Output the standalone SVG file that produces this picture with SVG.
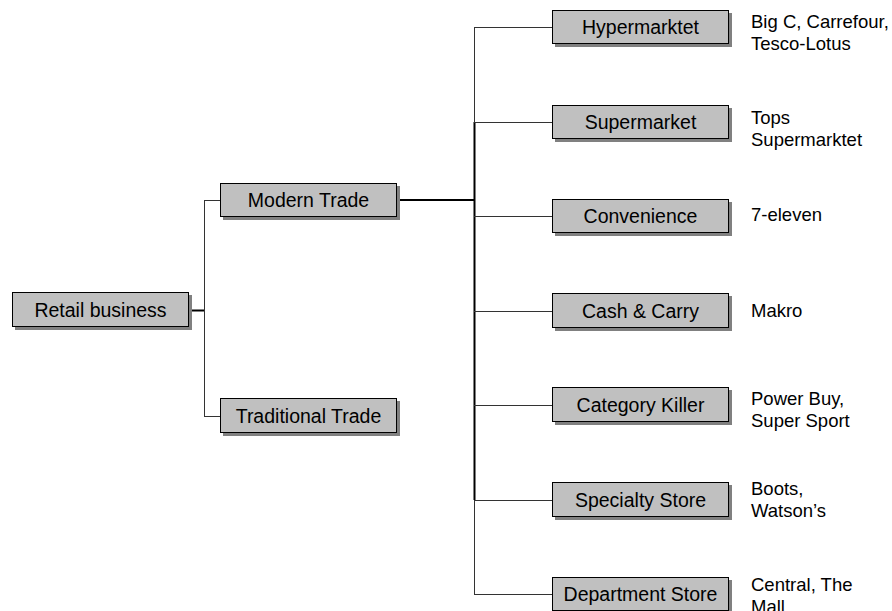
<svg xmlns="http://www.w3.org/2000/svg" width="892" height="611" viewBox="0 0 892 611">
<style>
.sh{fill:#808080}
.bx{fill:#c0c0c0;stroke:#000;stroke-width:1}
.t{font-family:"Liberation Sans",Arial,sans-serif;font-size:18.5px;fill:#000}
.c{text-anchor:middle;font-size:19.5px}
.ln{fill:none;stroke:#333;stroke-width:1}
.lk{fill:none;stroke:#000;stroke-width:2}
</style>
<rect width="892" height="611" fill="#fff"/>
<g id="connectors">
<path class="lk" d="M189 310.5H204"/>
<path class="ln" d="M204.5 200.5V416.5M204 200.5H220M204 416.5H220"/>
<path class="lk" d="M397 200H475"/>
<path class="ln" d="M474.5 27V122M474.5 500V595"/>
<path class="lk" d="M474.5 122V500"/>
<path class="ln" d="M474 27.5H552M474 122.5H552M474 216.5H552M474 311.5H552M474 405.5H552M474 500.5H552M474 594.5H552"/>
</g>
<g id="retail"><rect class="sh" x="15" y="295" width="177" height="35"/><rect class="bx" x="12.5" y="292.5" width="176" height="34"/><text class="t c" x="100.5" y="316.5">Retail business</text></g>
<g id="modern"><rect class="sh" x="223" y="186" width="177" height="34"/><rect class="bx" x="220.5" y="183.5" width="176" height="33"/><text class="t c" x="308.5" y="206.5">Modern Trade</text></g>
<g id="traditional"><rect class="sh" x="223" y="401" width="177" height="35"/><rect class="bx" x="220.5" y="398.5" width="176" height="34"/><text class="t c" x="308.5" y="422.5">Traditional Trade</text></g>
<g id="hyper"><rect class="sh" x="555" y="13" width="177" height="34"/><rect class="bx" x="552.5" y="10.5" width="176" height="33"/><text class="t c" x="640.5" y="33.5">Hypermarktet</text></g>
<g id="super"><rect class="sh" x="555" y="108" width="177" height="34"/><rect class="bx" x="552.5" y="105.5" width="176" height="33"/><text class="t c" x="640.5" y="128.5">Supermarket</text></g>
<g id="conv"><rect class="sh" x="555" y="202" width="177" height="34"/><rect class="bx" x="552.5" y="199.5" width="176" height="33"/><text class="t c" x="640.5" y="222.5">Convenience</text></g>
<g id="cash"><rect class="sh" x="555" y="296" width="177" height="35"/><rect class="bx" x="552.5" y="293.5" width="176" height="34"/><text class="t c" x="640.5" y="317.5">Cash &amp; Carry</text></g>
<g id="category"><rect class="sh" x="555" y="390" width="177" height="35"/><rect class="bx" x="552.5" y="387.5" width="176" height="34"/><text class="t c" x="640.5" y="411.5">Category Killer</text></g>
<g id="specialty"><rect class="sh" x="555" y="485" width="177" height="35"/><rect class="bx" x="552.5" y="482.5" width="176" height="34"/><text class="t c" x="640.5" y="506.5">Specialty Store</text></g>
<g id="department"><rect class="sh" x="555" y="580" width="177" height="34"/><rect class="bx" x="552.5" y="577.5" width="176" height="33"/><text class="t c" x="640.5" y="600.5">Department Store</text></g>
<g id="examples">
<text class="t" x="751" y="28">Big C, Carrefour,</text>
<text class="t" x="751" y="50">Tesco-Lotus</text>
<text class="t" x="751" y="124">Tops</text>
<text class="t" x="751" y="146">Supermarktet</text>
<text class="t" x="751" y="221">7-eleven</text>
<text class="t" x="751" y="317">Makro</text>
<text class="t" x="751" y="405">Power Buy,</text>
<text class="t" x="751" y="427">Super Sport</text>
<text class="t" x="751" y="495">Boots,</text>
<text class="t" x="751" y="517">Watson’s</text>
<text class="t" x="751" y="591">Central, The</text>
<text class="t" x="751" y="613">Mall</text>
</g>
</svg>
